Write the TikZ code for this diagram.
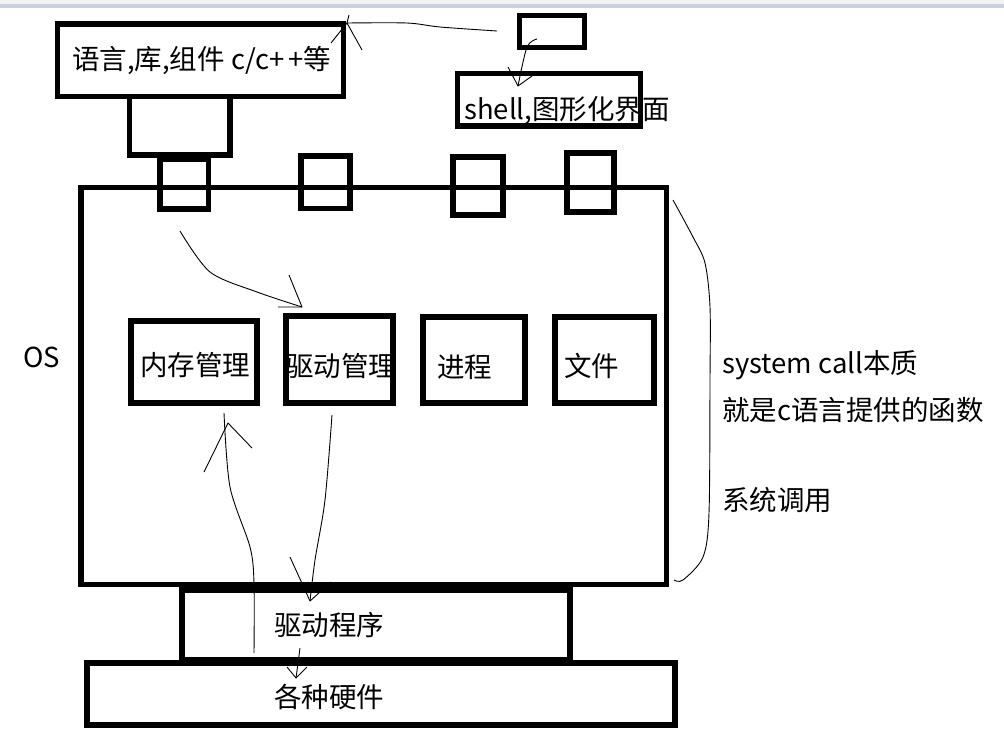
\documentclass[tikz,border=0pt]{standalone}
\usepackage{fontspec}
\setmainfont{Noto Sans CJK SC}
\definecolor{barblue}{RGB}{200,208,224}
\begin{document}
\begin{tikzpicture}[x=1pt,y=-1pt,
  box/.style={draw,line width=5.5pt,inner sep=0pt},
  lbl/.style={font=\fontsize{27.5}{32}\selectfont,inner sep=0pt,anchor=west},
  hand/.style={line width=0.9pt,line join=round}]
\useasboundingbox (0,0) rectangle (1004,729);
\fill[white] (0,0) rectangle (1004,729);
\fill[gray!10] (0,0) rectangle (1004,4);
\fill[barblue] (0,4) rectangle (1004,8);
% boxes
\node[box,minimum width=286pt,minimum height=72.5pt] (lang) at (200.5,60.25) {};
\node[box,minimum width=100.5pt,minimum height=58.5pt] (blk) at (179.75,125.75) {};
\node[box,minimum width=585.7pt,minimum height=397pt] (os) at (373.85,386) {};
\node[box,minimum width=48.5pt,minimum height=50pt] (c1) at (184.25,184) {};
\node[box,minimum width=49pt,minimum height=52.5pt] (c2) at (325.5,182.25) {};
\node[box,minimum width=50pt,minimum height=58pt] (c3) at (478,186) {};
\node[box,minimum width=47pt,minimum height=59pt] (c4) at (590.5,182.5) {};
\node[box,minimum width=183pt,minimum height=52.5pt] (shell) at (549,99.75) {};
\node[box,minimum width=65pt,minimum height=32pt] (tiny) at (552,31.5) {};
\node[box,minimum width=126pt,minimum height=82pt] (mem) at (194,362) {};
\node[box,minimum width=107pt,minimum height=87pt] (drvm) at (339.5,359.5) {};
\node[box,minimum width=102pt,minimum height=86pt] (proc) at (474,360) {};
\node[box,minimum width=99pt,minimum height=86pt] (file) at (604.5,360) {};
\node[box,minimum width=388pt,minimum height=70pt] (drv) at (376,625) {};
\node[box,minimum width=588pt,minimum height=62pt] (hw) at (381,694) {};
% labels
\node[lbl] (tlang) at (72,60) {语言,库,组件 c/c+\kern4pt+等};
\node[lbl] (tshell) at (464,111) {shell,图形化界面};
\node[lbl] (tmem) at (140,365) {内存管理};
\node[lbl] (tdrvm) at (286,366) {驱动管理};
\node[lbl] (tproc) at (437,367) {进程};
\node[lbl] (tfile) at (564,366) {文件};
\node[lbl] (tdrv) at (274,625) {驱动程序};
\node[lbl] (thw) at (274,697) {各种硬件};
\node[lbl] (tos) at (23,357) {OS};
\node[lbl] (tsc1) at (722,365) {system call本质};
\node[lbl] (tsc2) at (722,410) {就是c语言提供的函数};
\node[lbl] (tsc3) at (722,500) {系统调用};
% hand-drawn connectors
\coordinate (a1s) at (497,31); \coordinate (a1e) at (347,23);
\draw[hand] plot[smooth] coordinates {(a1s) (440,27) (407,23) (a1e)};
\draw[hand] (331,43) -- (a1e) -- (362,50);
\draw[hand] (349,15) -- (a1e);
\coordinate (a2s) at (537,39); \coordinate (a2e) at (518,86);
\draw[hand] plot[smooth] coordinates {(a2s) (527,47) (a2e)};
\draw[hand] (508,67) -- (a2e) -- (532,76);
\coordinate (a3s) at (180,231); \coordinate (a3e) at (302,307);
\draw[hand] plot[smooth] coordinates {(a3s) (210,272) (257,292) (a3e)};
\draw[hand] (289,275) -- (a3e) -- (278,307);
\coordinate (a4s) at (254,653); \coordinate (a4e) at (224,413);
\draw[hand] plot[smooth] coordinates {(a4s) (254,583) (250,547) (230,487) (a4e)};
\draw[hand] (204,472) -- (228,423) -- (252,448);
\coordinate (a5s) at (332,415); \coordinate (a5e) at (310,601);
\draw[hand] plot[smooth] coordinates {(a5s) (325,500) (315,560) (a5e)};
\draw[hand] (290,557) -- (a5e) -- (331,582);
\coordinate (a6s) at (300,648); \coordinate (a6e) at (296,678);
\draw[hand] (a6s) -- (a6e);
\draw[hand] (287,667) -- (a6e) -- (307,667);
\coordinate (b1) at (673,200); \coordinate (b2) at (674,580);
\draw[hand] plot[smooth] coordinates {(b1) (693,237) (705,263) (710,307) (710,380) (709,513) (703,557) (683,580) (b2)};
\end{tikzpicture}
\end{document}
